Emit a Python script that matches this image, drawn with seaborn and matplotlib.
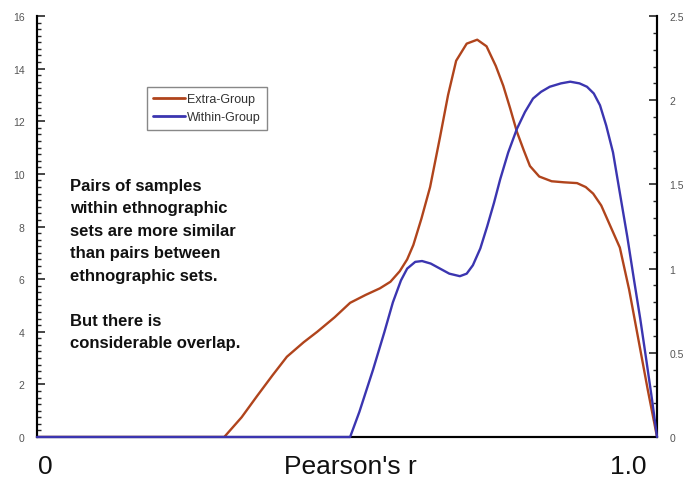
import numpy as np
import pandas as pd
import matplotlib
matplotlib.use('Agg')
import matplotlib.pyplot as plt
import seaborn as sns
from matplotlib.lines import Line2D
from matplotlib.ticker import MultipleLocator, NullFormatter

sns.set_style('white')
plt.rcParams['font.family'] = ['Liberation Sans', 'DejaVu Sans']

# Extra-Group density (left axis)
extra_x = [0.0, 0.302, 0.33, 0.355, 0.38, 0.403, 0.43, 0.452, 0.48, 0.505, 0.53,
           0.553, 0.57, 0.585, 0.597, 0.607, 0.62, 0.634, 0.65, 0.663, 0.676,
           0.693, 0.71, 0.725, 0.74, 0.752, 0.763, 0.774, 0.785, 0.795, 0.81,
           0.83, 0.85, 0.871, 0.885, 0.897, 0.91, 0.925, 0.94, 0.955, 0.97,
           0.985, 1.0]
extra_y = [0.0, 0.0, 0.75, 1.56, 2.35, 3.05, 3.6, 4.0, 4.55, 5.1, 5.4,
           5.65, 5.9, 6.3, 6.75, 7.3, 8.3, 9.5, 11.4, 13.0, 14.3,
           14.95, 15.1, 14.85, 14.1, 13.35, 12.5, 11.6, 10.9, 10.3, 9.9,
           9.72, 9.68, 9.65, 9.5, 9.25, 8.8, 8.0, 7.2, 5.6, 3.7,
           1.8, 0.0]

# Within-Group density (right axis)
within_x = [0.0, 0.505, 0.52, 0.542, 0.56, 0.574, 0.587, 0.597, 0.61, 0.621,
            0.635, 0.65, 0.665, 0.682, 0.693, 0.703, 0.715, 0.726, 0.737, 0.747,
            0.76, 0.774, 0.787, 0.8, 0.813, 0.827, 0.845, 0.86, 0.875, 0.887,
            0.898, 0.908, 0.918, 0.929, 0.94, 0.952, 0.963, 0.973, 0.983, 0.992,
            1.0]
within_y = [0.0, 0.0, 0.15, 0.40, 0.62, 0.80, 0.93, 1.0, 1.04, 1.045,
            1.03, 1.0, 0.97, 0.955, 0.97, 1.02, 1.12, 1.25, 1.39, 1.53,
            1.69, 1.83, 1.93, 2.01, 2.05, 2.08, 2.10, 2.11, 2.10, 2.08,
            2.04, 1.97, 1.85, 1.69, 1.45, 1.19, 0.93, 0.70, 0.45, 0.22,
            0.0]

series_labels = ['Extra-Group', 'Within-Group']
left_ticks = [0, 2, 4, 6, 8, 10, 12, 14, 16]
right_ticks = [0, 0.5, 1, 1.5, 2, 2.5]
right_tick_labels = ['0', '0.5', '1', '1.5', '2', '2.5']

red = '#B0441C'
blue = '#3B35B0'

fig = plt.figure(figsize=(6.93, 4.85), dpi=100)
fig.patch.set_facecolor('white')
ax = fig.add_axes([0.0534, 0.0969, 0.8947, 0.868])
ax2 = ax.twinx()

sns.lineplot(x=extra_x, y=extra_y, ax=ax, color=red, lw=1.7, sort=False,
             estimator=None)
sns.lineplot(x=within_x, y=within_y, ax=ax2, color=blue, lw=1.7, sort=False,
             estimator=None, clip_on=False, zorder=5)

ax.set_xlim(0, 1)
ax.set_ylim(0, 16)
ax2.set_ylim(0, 2.5)
ax.set_xlabel('')
ax.set_ylabel('')
ax2.set_ylabel('')

for a in (ax, ax2):
    a.set_facecolor('none')
    a.grid(False)
    a.spines['top'].set_visible(False)
    for s in ('left', 'right', 'bottom'):
        a.spines[s].set_color('black')
        a.spines[s].set_linewidth(1.5)

ax.set_xticks(np.arange(0, 1.0001, 0.05))
ax.xaxis.set_major_formatter(NullFormatter())
ax.tick_params(axis='x', direction='in', length=4, width=1.2, color='black')

ax.set_yticks(left_ticks)
ax.set_yticklabels([str(t) for t in left_ticks])
ax.yaxis.set_minor_locator(MultipleLocator(0.25))
ax.tick_params(axis='y', which='major', direction='in', length=6, width=1.2,
               labelsize=7.5, labelcolor='#555555', pad=9)
ax.tick_params(axis='y', which='minor', direction='in', length=3, width=1.0, left=True)

ax2.set_yticks(right_ticks)
ax2.set_yticklabels(right_tick_labels)
ax2.yaxis.set_minor_locator(MultipleLocator(0.1))
ax2.tick_params(axis='y', which='major', direction='in', length=6, width=1.2,
                labelsize=7.5, labelcolor='#555555', pad=9)
ax2.tick_params(axis='y', which='minor', direction='in', length=3, width=1.0, right=True)

# bottom labels
fig.text(45 / 693, 1 - 467 / 485, '0', fontsize=19, ha='center', va='center', color='#111111')
fig.text(350 / 693, 1 - 467 / 485, "Pearson's r", fontsize=19, ha='center', va='center', color='#111111')
fig.text(628 / 693, 1 - 467 / 485, '1.0', fontsize=19, ha='center', va='center', color='#111111')

# annotation
fig.text(70 / 693, 1 - 179 / 485,
         "Pairs of samples\nwithin ethnographic\nsets are more similar\n"
         "than pairs between\nethnographic sets.\n\nBut there is\nconsiderable overlap.",
         fontsize=12, fontweight='bold', ha='left', va='top', linespacing=1.62,
         color='#111111')

handles = [Line2D([0], [0], color=red, lw=2), Line2D([0], [0], color=blue, lw=2)]
leg = ax2.legend(handles, series_labels, loc='upper left',
                 bbox_to_anchor=(147 / 693, 1 - 88 / 485), bbox_transform=fig.transFigure,
                 fontsize=9, frameon=True, fancybox=False, framealpha=1,
                 edgecolor='#888888', handlelength=2.5, handletextpad=0.2,
                 borderpad=0.5, labelspacing=0.5, borderaxespad=0)
leg.get_frame().set_linewidth(1.0)
for t in leg.get_texts():
    t.set_color('#333333')

fig.savefig('out.png', dpi=100, facecolor='white')
